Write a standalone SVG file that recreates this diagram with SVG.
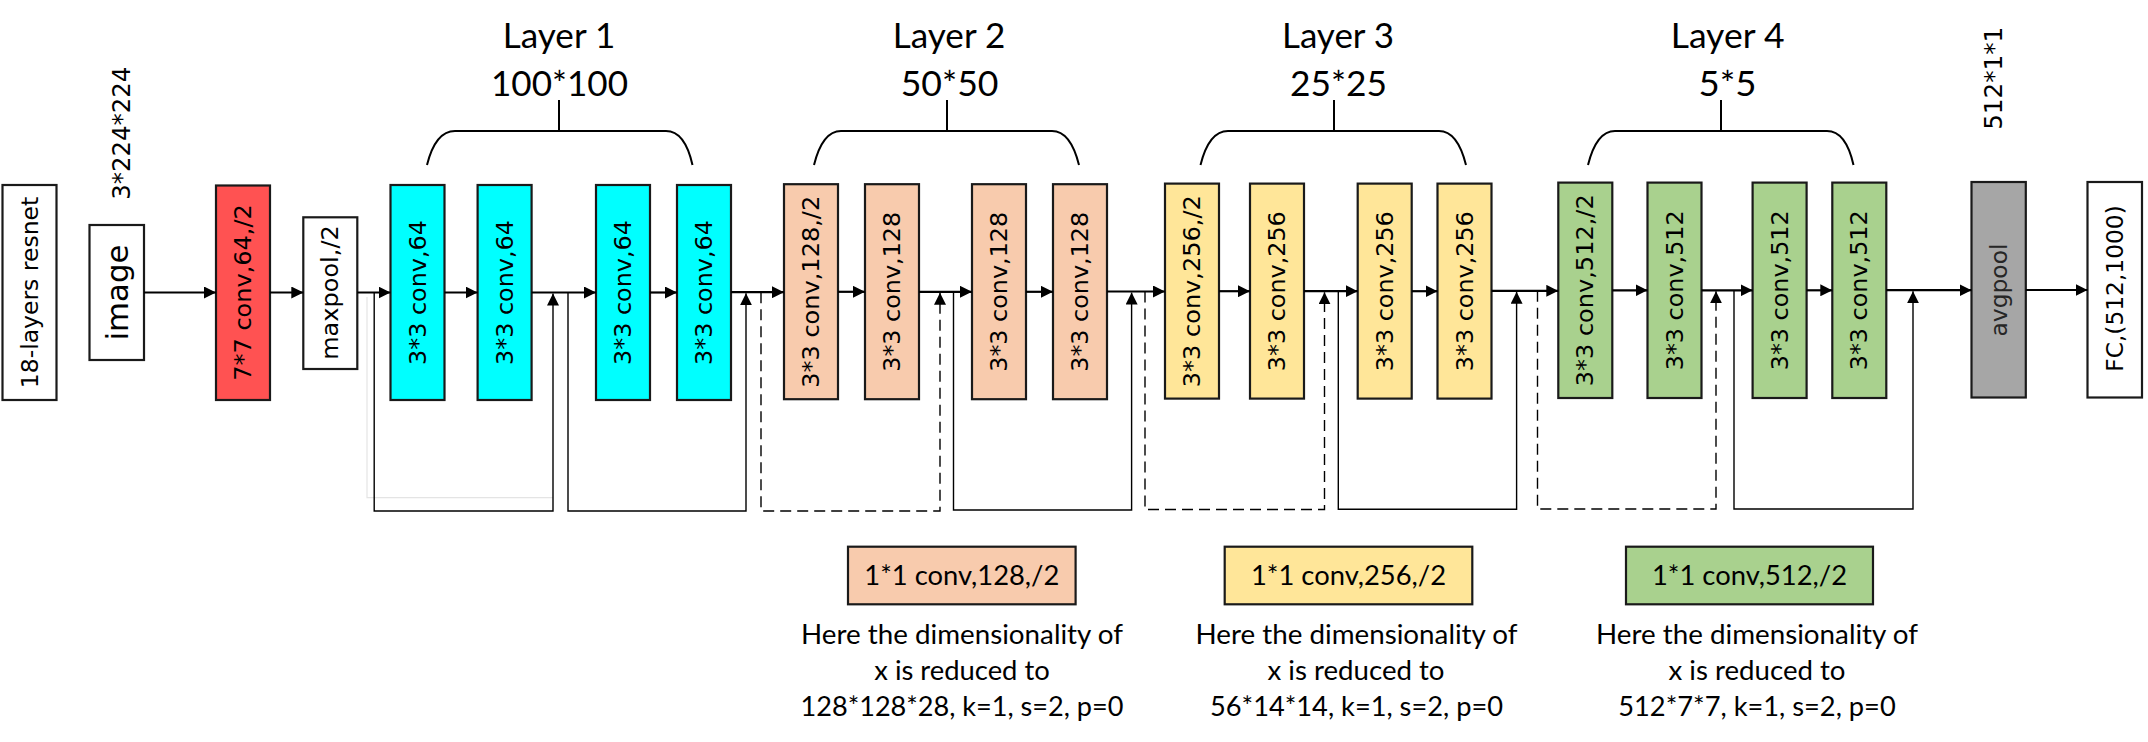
<svg xmlns="http://www.w3.org/2000/svg" width="2148" height="742" viewBox="0 0 2148 742">
<style>
.box{stroke:#1a1a1a;stroke-width:2.2}
.w{fill:#ffffff}.red{fill:#ff5252}.cy{fill:#00ffff}.pe{fill:#f8cbad}.ye{fill:#ffe699}.gr{fill:#a9d18e}.gy{fill:#a6a6a6}
.bt{font-family:"DejaVu Sans",Verdana,sans-serif;fill:#000}
.cal{font-family:Lato,"Open Sans",sans-serif;fill:#000}
.main{stroke:#000;stroke-width:2.2;fill:none}
.fb{stroke:#000;stroke-width:1.4;fill:none}
.dash{stroke-dasharray:11 6}
.brace{stroke:#000;stroke-width:2;fill:none}
</style>
<defs>
<marker id="arr" viewBox="0 0 12 12" refX="12" refY="6" markerWidth="12" markerHeight="12" markerUnits="userSpaceOnUse" orient="auto">
<path d="M0,0 L12,6 L0,12 z" fill="#000"/>
</marker>
</defs>
<rect width="2148" height="742" fill="#ffffff"/>

<g id="labels-top">
<text class="bt" transform="translate(121.7,133.3) rotate(-90)" text-anchor="middle" dominant-baseline="central" style="font-size:24.2px" textLength="133" lengthAdjust="spacingAndGlyphs">3*224*224</text>
<text class="bt" transform="translate(1993,78.3) rotate(-90)" text-anchor="middle" dominant-baseline="central" style="font-size:24.5px" textLength="103" lengthAdjust="spacingAndGlyphs">512*1*1</text>
</g>

<g id="layer1">
<text class="cal" x="559" y="48" font-size="35" text-anchor="middle" textLength="112.5" lengthAdjust="spacingAndGlyphs">Layer 1</text>
<text class="cal" x="559.5" y="96" font-size="35" text-anchor="middle" textLength="137" lengthAdjust="spacingAndGlyphs">100*100</text>
<path class="brace" d="M559,100 V131 M427,165 C432,145 440,131 455,131 L666,131 C680,131 688,145 692.5,165"/>
</g>
<g id="layer2">
<text class="cal" x="949" y="48" font-size="35" text-anchor="middle" textLength="112.5" lengthAdjust="spacingAndGlyphs">Layer 2</text>
<text class="cal" x="949.6" y="96" font-size="35" text-anchor="middle" textLength="97.8" lengthAdjust="spacingAndGlyphs">50*50</text>
<path class="brace" d="M947,100 V131 M814,165 C819,145 827,131 841,131 L1052,131 C1066,131 1074,145 1079,165"/>
</g>
<g id="layer3">
<text class="cal" x="1338" y="48" font-size="35" text-anchor="middle" textLength="112" lengthAdjust="spacingAndGlyphs">Layer 3</text>
<text class="cal" x="1338.6" y="96" font-size="35" text-anchor="middle" textLength="97" lengthAdjust="spacingAndGlyphs">25*25</text>
<path class="brace" d="M1334,100 V131 M1200.5,165 C1205.5,145 1213.5,131 1228,131 L1439,131 C1453,131 1461,145 1466,165"/>
</g>
<g id="layer4">
<text class="cal" x="1727.6" y="48" font-size="35" text-anchor="middle" textLength="113.8" lengthAdjust="spacingAndGlyphs">Layer 4</text>
<text class="cal" x="1727.6" y="96" font-size="35" text-anchor="middle" textLength="58" lengthAdjust="spacingAndGlyphs">5*5</text>
<path class="brace" d="M1721,100 V131 M1588,165 C1593,145 1601,131 1615,131 L1827,131 C1841,131 1849,145 1853.5,165"/>
</g>

<g id="n-resnet"><rect class="box w" x="2.5" y="185" width="54" height="215"/><text class="bt" font-size="23.5" transform="translate(29.5,292.5) rotate(-90)" text-anchor="middle" dominant-baseline="central" textLength="191.5" lengthAdjust="spacingAndGlyphs">18-layers resnet</text></g>
<g id="n-image"><rect class="box w" x="89.5" y="225" width="54.5" height="135"/><text class="bt" font-size="31" transform="translate(116.7,292.5) rotate(-90)" text-anchor="middle" dominant-baseline="central" textLength="96" lengthAdjust="spacingAndGlyphs">image</text></g>
<g id="n-conv7"><rect class="box red" x="216" y="185.5" width="54" height="214.5"/><text class="bt" font-size="23.8" transform="translate(243,292.5) rotate(-90)" text-anchor="middle" dominant-baseline="central" textLength="176.5" lengthAdjust="spacingAndGlyphs">7*7 conv,64,/2</text></g>
<g id="n-maxpool"><rect class="box w" x="303.3" y="217.3" width="54" height="151.7"/><text class="bt" font-size="23.8" transform="translate(330.3,292.5) rotate(-90)" text-anchor="middle" dominant-baseline="central" textLength="134.5" lengthAdjust="spacingAndGlyphs">maxpool,/2</text></g>

<g id="n-c1"><rect class="box cy" x="390.5" y="185" width="54" height="215"/><text class="bt" font-size="23.8" transform="translate(417.5,292.5) rotate(-90)" text-anchor="middle" dominant-baseline="central" textLength="145" lengthAdjust="spacingAndGlyphs">3*3 conv,64</text></g>
<g id="n-c2"><rect class="box cy" x="477.6" y="185" width="54" height="215"/><text class="bt" font-size="23.8" transform="translate(504.6,292.5) rotate(-90)" text-anchor="middle" dominant-baseline="central" textLength="145" lengthAdjust="spacingAndGlyphs">3*3 conv,64</text></g>
<g id="n-c3"><rect class="box cy" x="596" y="185" width="54" height="215"/><text class="bt" font-size="23.8" transform="translate(623,292.5) rotate(-90)" text-anchor="middle" dominant-baseline="central" textLength="145" lengthAdjust="spacingAndGlyphs">3*3 conv,64</text></g>
<g id="n-c4"><rect class="box cy" x="677" y="185" width="54" height="215"/><text class="bt" font-size="23.8" transform="translate(704,292.5) rotate(-90)" text-anchor="middle" dominant-baseline="central" textLength="145" lengthAdjust="spacingAndGlyphs">3*3 conv,64</text></g>

<g id="n-p1"><rect class="box pe" x="784" y="184.2" width="54" height="215"/><text class="bt" font-size="23.8" transform="translate(811,291.8) rotate(-90)" text-anchor="middle" dominant-baseline="central" textLength="192" lengthAdjust="spacingAndGlyphs">3*3 conv,128,/2</text></g>
<g id="n-p2"><rect class="box pe" x="865" y="184.2" width="54" height="215"/><text class="bt" font-size="23.8" transform="translate(892,291.8) rotate(-90)" text-anchor="middle" dominant-baseline="central" textLength="160" lengthAdjust="spacingAndGlyphs">3*3 conv,128</text></g>
<g id="n-p3"><rect class="box pe" x="972" y="184.2" width="54" height="215"/><text class="bt" font-size="23.8" transform="translate(999,291.8) rotate(-90)" text-anchor="middle" dominant-baseline="central" textLength="160" lengthAdjust="spacingAndGlyphs">3*3 conv,128</text></g>
<g id="n-p4"><rect class="box pe" x="1053" y="184.2" width="54" height="215"/><text class="bt" font-size="23.8" transform="translate(1080,291.8) rotate(-90)" text-anchor="middle" dominant-baseline="central" textLength="160" lengthAdjust="spacingAndGlyphs">3*3 conv,128</text></g>

<g id="n-y1"><rect class="box ye" x="1165" y="183.6" width="54" height="215"/><text class="bt" font-size="23.8" transform="translate(1192,291.2) rotate(-90)" text-anchor="middle" dominant-baseline="central" textLength="192" lengthAdjust="spacingAndGlyphs">3*3 conv,256,/2</text></g>
<g id="n-y2"><rect class="box ye" x="1250" y="183.6" width="54" height="215"/><text class="bt" font-size="23.8" transform="translate(1277,291.2) rotate(-90)" text-anchor="middle" dominant-baseline="central" textLength="160" lengthAdjust="spacingAndGlyphs">3*3 conv,256</text></g>
<g id="n-y3"><rect class="box ye" x="1357.7" y="183.6" width="54" height="215"/><text class="bt" font-size="23.8" transform="translate(1384.7,291.2) rotate(-90)" text-anchor="middle" dominant-baseline="central" textLength="160" lengthAdjust="spacingAndGlyphs">3*3 conv,256</text></g>
<g id="n-y4"><rect class="box ye" x="1437.5" y="183.6" width="54" height="215"/><text class="bt" font-size="23.8" transform="translate(1464.5,291.2) rotate(-90)" text-anchor="middle" dominant-baseline="central" textLength="160" lengthAdjust="spacingAndGlyphs">3*3 conv,256</text></g>

<g id="n-g1"><rect class="box gr" x="1558.3" y="182.6" width="54" height="215.4"/><text class="bt" font-size="23.8" transform="translate(1585.3,290.3) rotate(-90)" text-anchor="middle" dominant-baseline="central" textLength="192" lengthAdjust="spacingAndGlyphs">3*3 conv,512,/2</text></g>
<g id="n-g2"><rect class="box gr" x="1647.5" y="182.6" width="54" height="215.4"/><text class="bt" font-size="23.8" transform="translate(1674.5,290.3) rotate(-90)" text-anchor="middle" dominant-baseline="central" textLength="160" lengthAdjust="spacingAndGlyphs">3*3 conv,512</text></g>
<g id="n-g3"><rect class="box gr" x="1752.6" y="182.6" width="54" height="215.4"/><text class="bt" font-size="23.8" transform="translate(1779.6,290.3) rotate(-90)" text-anchor="middle" dominant-baseline="central" textLength="160" lengthAdjust="spacingAndGlyphs">3*3 conv,512</text></g>
<g id="n-g4"><rect class="box gr" x="1832.3" y="182.6" width="54" height="215.4"/><text class="bt" font-size="23.8" transform="translate(1859.3,290.3) rotate(-90)" text-anchor="middle" dominant-baseline="central" textLength="160" lengthAdjust="spacingAndGlyphs">3*3 conv,512</text></g>

<g id="n-avgpool"><rect class="box gy" x="1971.5" y="182" width="54.3" height="215.5"/><text class="bt" font-size="23.5" transform="translate(1998.6,290) rotate(-90)" text-anchor="middle" dominant-baseline="central" style="fill:#262626" textLength="93" lengthAdjust="spacingAndGlyphs">avgpool</text></g>
<g id="n-fc"><rect class="box w" x="2087.5" y="182" width="54.5" height="215.5"/><text class="bt" font-size="23.3" transform="translate(2114.7,288.5) rotate(-90)" text-anchor="middle" dominant-baseline="central" textLength="166.5" lengthAdjust="spacingAndGlyphs">FC,(512,1000)</text></g>

<g id="n-d128"><rect class="box pe" x="848" y="546.7" width="227.6" height="57.6"/><text class="cal" x="961.8" y="585" font-size="27" text-anchor="middle" textLength="195" lengthAdjust="spacingAndGlyphs">1*1 conv,128,/2</text>
<text class="cal" font-size="27.8" text-anchor="middle"><tspan x="962" y="643.5" textLength="322" lengthAdjust="spacingAndGlyphs">Here the dimensionality of</tspan><tspan x="962" y="679.5" textLength="175.5" lengthAdjust="spacingAndGlyphs">x is reduced to</tspan><tspan x="962" y="715.5" textLength="323" lengthAdjust="spacingAndGlyphs">128*128*28, k=1, s=2, p=0</tspan></text></g>
<g id="n-d256"><rect class="box ye" x="1224.7" y="546.7" width="247.6" height="57.6"/><text class="cal" x="1348.5" y="585" font-size="27" text-anchor="middle" textLength="195" lengthAdjust="spacingAndGlyphs">1*1 conv,256,/2</text>
<text class="cal" font-size="27.8" text-anchor="middle"><tspan x="1356.5" y="643.5" textLength="322" lengthAdjust="spacingAndGlyphs">Here the dimensionality of</tspan><tspan x="1356" y="679.5" textLength="177" lengthAdjust="spacingAndGlyphs">x is reduced to</tspan><tspan x="1356.5" y="715.5" textLength="293" lengthAdjust="spacingAndGlyphs">56*14*14, k=1, s=2, p=0</tspan></text></g>
<g id="n-d512"><rect class="box gr" x="1626" y="546.7" width="247" height="57.6"/><text class="cal" x="1749.5" y="585" font-size="27" text-anchor="middle" textLength="195" lengthAdjust="spacingAndGlyphs">1*1 conv,512,/2</text>
<text class="cal" font-size="27.8" text-anchor="middle"><tspan x="1757" y="643.5" textLength="322" lengthAdjust="spacingAndGlyphs">Here the dimensionality of</tspan><tspan x="1757" y="679.5" textLength="177" lengthAdjust="spacingAndGlyphs">x is reduced to</tspan><tspan x="1757" y="715.5" textLength="277.5" lengthAdjust="spacingAndGlyphs">512*7*7, k=1, s=2, p=0</tspan></text></g>

<g id="connectors">
<path class="main" marker-end="url(#arr)" d="M144,292.5 H216"/>
<path class="main" marker-end="url(#arr)" d="M270,292.5 H303.3"/>
<path class="main" marker-end="url(#arr)" d="M357.3,292.5 H390.5"/>
<path class="main" marker-end="url(#arr)" d="M444.5,292.5 H477.6"/>
<path class="main" marker-end="url(#arr)" d="M531.6,292.5 H596"/>
<path class="main" marker-end="url(#arr)" d="M650,292.5 H677"/>
<path class="main" marker-end="url(#arr)" d="M731,292.2 H784"/>
<path class="main" marker-end="url(#arr)" d="M838,291.8 H865"/>
<path class="main" marker-end="url(#arr)" d="M919,291.8 H972"/>
<path class="main" marker-end="url(#arr)" d="M1026,291.8 H1053"/>
<path class="main" marker-end="url(#arr)" d="M1107,291.5 H1165"/>
<path class="main" marker-end="url(#arr)" d="M1219,291.2 H1250"/>
<path class="main" marker-end="url(#arr)" d="M1304,291.2 H1357.7"/>
<path class="main" marker-end="url(#arr)" d="M1411.7,291.2 H1437.5"/>
<path class="main" marker-end="url(#arr)" d="M1491.5,290.8 H1558.3"/>
<path class="main" marker-end="url(#arr)" d="M1612.3,290.3 H1647.5"/>
<path class="main" marker-end="url(#arr)" d="M1701.5,290.3 H1752.6"/>
<path class="main" marker-end="url(#arr)" d="M1806.6,290.3 H1832.3"/>
<path class="main" marker-end="url(#arr)" d="M1886.3,290.2 H1971.5"/>
<path class="main" marker-end="url(#arr)" d="M2025.8,290 H2087.5"/>

<path d="M367,297 V497.7 H553" fill="none" stroke="#e4e4e4" stroke-width="1.2"/>
<path class="fb" marker-end="url(#arr)" d="M374.2,292.5 V511 H553 V293.5"/>
<path class="fb" marker-end="url(#arr)" d="M568,292.5 V511 H746 V293.3"/>
<path class="fb dash" marker-end="url(#arr)" d="M761,292.2 V511 H940 V292.8"/>
<path class="fb" marker-end="url(#arr)" d="M953.5,291.8 V510 H1131.6 V292.5"/>
<path class="fb dash" marker-end="url(#arr)" d="M1145,291.5 V509.5 H1324.5 V292.2"/>
<path class="fb" marker-end="url(#arr)" d="M1338.3,291.2 V509.3 H1516.6 V291.8"/>
<path class="fb dash" marker-end="url(#arr)" d="M1537.5,290.8 V509 H1716 V291.3"/>
<path class="fb" marker-end="url(#arr)" d="M1734,290.3 V509 H1913 V291.2"/>
</g>
</svg>
